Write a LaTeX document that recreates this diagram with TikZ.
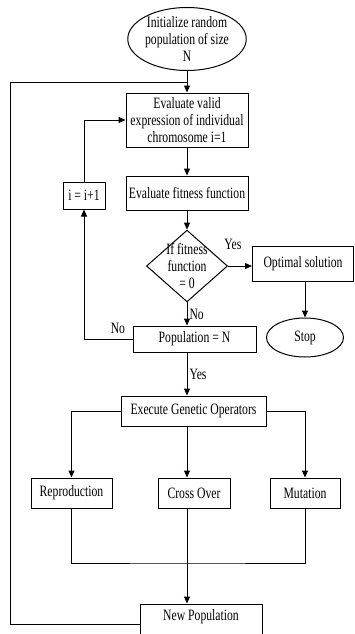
\documentclass[tikz,border=0pt]{standalone}
\usepackage{fontspec}
\setmainfont{Liberation Serif}[FakeStretch=0.74]
\usetikzlibrary{
    arrows.meta,
    positioning,
    shapes.geometric
}
\definecolor{ink}{RGB}{0,0,0}
\tikzset{
    line join=miter,
    base node/.style={
        draw=ink,
        line width=1pt,
        fill=white,
        text=ink,
        align=center,
        inner sep=0pt,
        font=\fontsize{15.8}{16.7}\selectfont
    },
    procbox/.style={base node, rectangle},
    terminator/.style={base node, ellipse},
    decision/.style={
        base node,
        diamond,
        aspect=1.13,
        inner sep=-2.5pt
    },
    flowarrow/.style={
        -{Triangle[length=7pt,width=6pt]},
        draw=ink,
        line width=1pt
    },
    flowline/.style={
        -,
        draw=ink,
        line width=1pt
    },
    branchlabel/.style={
        font=\fontsize{15.8}{16}\selectfont,
        text=ink,
        inner sep=1pt
    }
}

\begin{document}
\begin{tikzpicture}[x=1pt, y=-1pt]

\useasboundingbox (0,0) rectangle (354,634);

% Initialisation and evaluation
\node[terminator, minimum width=113pt, minimum height=63pt] (init) at (187,39)
    {Initialize random\\population of size\\N};
\node[procbox, minimum width=122pt, minimum height=54pt] (evalexpr) at (187,120)
    {Evaluate valid\\expression of individual\\chromosome i=1};
\node[procbox, minimum width=122pt, minimum height=34pt] (evalfit) at (187,193)
    {Evaluate fitness function};
\node[procbox, minimum width=42pt, minimum height=27pt] (incr) at (84,195.5) {i = i+1};

% Decision and exit
\node[decision] (fitcheck) at (187,266) {If fitness\\function\\= 0};
\node[procbox, minimum width=101pt, minimum height=35pt] (optimal) at (303,264)
    {Optimal solution};
\node[terminator, minimum width=77pt, minimum height=39pt] (stop) at (305,337.5) {Stop};
\node[procbox, minimum width=123pt, minimum height=26pt] (popcheck) at (194.5,339)
    {Population = N};

% Genetic operators
\node[procbox, minimum width=145pt, minimum height=30pt] (execute) at (193.5,411)
    {Execute Genetic Operators};
\node[procbox, minimum width=81pt, minimum height=30pt] (repro) at (71.5,493) {Reproduction};
\node[procbox, minimum width=72pt, minimum height=30pt] (cross) at (194,493) {Cross Over};
\node[procbox, minimum width=70pt, minimum height=30pt] (mutate) at (305,493) {Mutation};
\node[procbox, minimum width=122pt, minimum height=40pt, text depth=18pt] (newpop) at (201,624)
    {New Population};

% Helper points
\coordinate (railtop) at (10,82);
\coordinate (railjoin) at (187,82);
\coordinate (merge) at (187,563);

% Main flow
\draw[flowarrow] (init) -- (evalexpr);
\draw[flowarrow] (evalexpr) -- (evalfit);
\draw[flowarrow] (evalfit) -- (fitcheck);
\draw[flowarrow] (fitcheck.east) -- (fitcheck.east -| optimal.west)
    node[pos=0.2, above=15pt, branchlabel] {Yes};
\draw[flowarrow] (stop.north |- optimal.south) -- (stop.north);
\draw[flowarrow] (fitcheck.south) -- (fitcheck.south |- popcheck.north)
    node[midway, right=1pt, branchlabel] {No};

% Inner loop
\draw[flowarrow] (popcheck.west) -| (incr.south)
    node[pos=0.15, above=4pt, branchlabel] {No};
\draw[flowarrow] (incr.north) |- (evalexpr.west);

% Operators
\draw[flowarrow] (popcheck.south -| fitcheck.south) -- (execute.north -| fitcheck.south)
    node[midway, right=1pt, branchlabel] {Yes};
\draw[flowarrow] (execute.west) -| (repro.north);
\draw[flowarrow] (execute.south -| fitcheck.south) -- (cross.north -| fitcheck.south);
\draw[flowarrow] (execute.east) -| (mutate.north);
\draw[flowline] (repro.south) |- (merge) -| (mutate.south);
\draw[flowarrow] (cross.south -| merge) -- (newpop.north -| merge);

% Outer loop
\draw[flowline] (newpop.west) -| (railtop) -- (railjoin);

\end{tikzpicture}
\end{document}
